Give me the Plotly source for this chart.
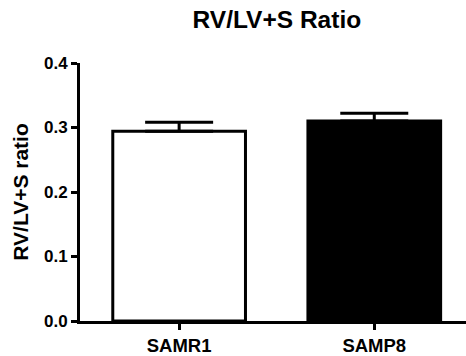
import plotly.graph_objects as go

categories = ["SAMR1", "SAMP8"]
means = [0.294, 0.310]
sem = [0.014, 0.012]
fills = ["white", "black"]
yticks = [0.0, 0.1, 0.2, 0.3, 0.4]
ytick_text = ["0.0", "0.1", "0.2", "0.3", "0.4"]

font = "Liberation Sans, Arial, sans-serif"

fig = go.Figure()
fig.add_trace(go.Bar(
    x=[0, 1], y=means,
    marker=dict(color=fills, line=dict(color="black", width=3)),
    width=0.68,
    error_y=dict(type="data", array=sem, symmetric=False, arrayminus=[0, 0],
                 color="black", thickness=3, width=34, visible=True),
))

fig.update_layout(
    width=466, height=356,
    margin=dict(l=80, r=0, t=63, b=31),
    paper_bgcolor="white", plot_bgcolor="white",
    showlegend=False,
    title=dict(text="<b>RV/LV+S Ratio</b>", x=0.51, xref="paper", xanchor="center",
               y=1 - 19 / 356, yref="container", yanchor="middle",
               font=dict(family=font, size=24.5, color="black")),
)

fig.update_xaxes(
    range=[-0.508, 1.47],
    tickvals=[0, 1], ticktext=["<b>%s</b>" % c for c in categories],
    showline=True, linecolor="black", linewidth=3,
    ticks="outside", ticklen=6, tickwidth=2.5, tickcolor="black",
    tickfont=dict(family=font, size=18.5, color="black"),
    showgrid=False, zeroline=False,
)
fig.update_yaxes(
    range=[0, 0.4],
    tickvals=yticks, ticktext=["<b>%s</b>" % t for t in ytick_text],
    showline=True, linecolor="black", linewidth=3,
    ticks="outside", ticklen=6, tickwidth=2.5, tickcolor="black",
    tickfont=dict(family=font, size=17, color="black"),
    showgrid=False, zeroline=False,
    title=dict(text="<b>RV/LV+S ratio</b>", font=dict(family=font, size=21, color="black"), standoff=10),
)

fig.write_html("out.html")
